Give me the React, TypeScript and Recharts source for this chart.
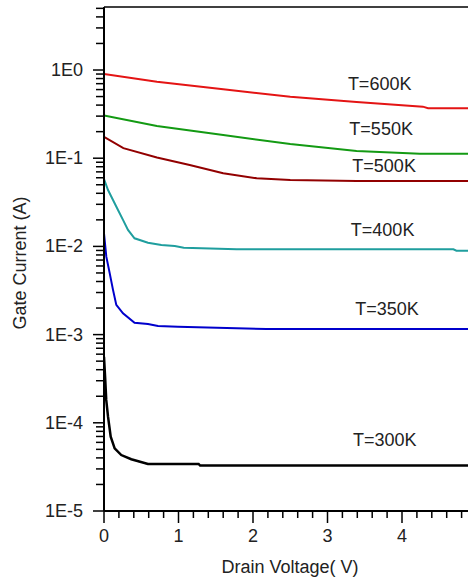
import React from 'react';
import { LineChart, Line, XAxis, YAxis, ReferenceLine, ReferenceDot } from 'recharts';

// drain voltage (V) / gate current (A)
const vd600 = [0, 0.71, 1.6, 2.5, 3.39, 4.28, 4.35, 5];
const ig600 = [0.9, 0.736, 0.604, 0.498, 0.434, 0.384, 0.368, 0.368];

const vd550 = [0, 0.71, 1.6, 2.5, 3.39, 4.24, 5];
const ig550 = [0.306, 0.232, 0.183, 0.145, 0.121, 0.112, 0.112];

const vd500 = [0, 0.26, 0.71, 1.15, 1.6, 2.05, 2.5, 3.39, 5];
const ig500 = [0.175, 0.13, 0.102, 0.0837, 0.0674, 0.0592, 0.0566, 0.0551, 0.0551];

const vd400 = [0, 0.054, 0.121, 0.188, 0.255, 0.322, 0.41, 0.59, 0.77, 0.95, 1.07, 1.78, 4.69, 4.73, 5];
const ig400 = [0.058, 0.0436, 0.0336, 0.0259, 0.02, 0.01535, 0.01236, 0.01102, 0.01037, 0.0101, 0.00967, 0.00927, 0.00927, 0.00894, 0.00894];

const vd350 = [0, 0.031, 0.077, 0.121, 0.165, 0.255, 0.41, 0.59, 0.725, 0.993, 2.18, 5];
const ig350 = [0.0141, 0.00764, 0.00495, 0.00321, 0.00217, 0.001744, 0.001365, 0.001318, 0.00125, 0.00123, 0.001157, 0.001157];

const vd300 = [0, 0.017, 0.03, 0.054, 0.09, 0.143, 0.232, 0.366, 0.59, 1.27, 1.29, 5];
const ig300 = [0.000561, 0.000305, 0.0001817, 0.0001172, 0.0000695, 0.0000514, 0.0000431, 0.0000386, 0.0000341, 0.0000341, 0.0000327, 0.0000327];

const labelText = ['T=600K', 'T=550K', 'T=500K', 'T=400K', 'T=350K', 'T=300K'];
const labelVd = [3.7, 3.72, 3.76, 3.74, 3.8, 3.77];
const labelIg = [0.693, 0.217, 0.0826, 0.01535, 0.00198, 0.0000638];

const xTicks = [0, 0.2, 0.4, 0.6, 0.8, 1, 1.2, 1.4, 1.6, 1.8, 2, 2.2, 2.4, 2.6, 2.8, 3, 3.2, 3.4, 3.6, 3.8, 4, 4.2, 4.4, 4.6, 4.8];
const xLabelled = [0, 1, 2, 3, 4];
const yDecades = [-5, -4, -3, -2, -1, 0];
const yMantissas = [1, 2, 3, 4, 5, 6, 7, 8, 9];
const yTop = [1, 2, 3, 4, 5];
const yMax = 5.18;

const yTicks = [
  ...yDecades.slice(0, -1).flatMap((d) => yMantissas.map((m) => Number((m * Math.pow(10, d)).toPrecision(3)))),
  ...yTop,
];

const pairs = (xs: number[], ys: number[]) => xs.map((x, i) => ({ vd: x, ig: ys[i] }));

const series = [
  { name: 'T=600K', data: pairs(vd600, ig600), color: '#e41414', width: 2 },
  { name: 'T=550K', data: pairs(vd550, ig550), color: '#139a13', width: 2 },
  { name: 'T=500K', data: pairs(vd500, ig500), color: '#920000', width: 2 },
  { name: 'T=400K', data: pairs(vd400, ig400), color: '#1f9e9e', width: 2 },
  { name: 'T=350K', data: pairs(vd350, ig350), color: '#0000cc', width: 2 },
  { name: 'T=300K', data: pairs(vd300, ig300), color: '#000000', width: 2.5 },
];

const FONT = '"Liberation Sans", Arial, sans-serif';
const TXT = '#222';

const isDecade = (v: number) => Math.abs(Math.log10(v) - Math.round(Math.log10(v))) < 1e-6;

const YTick = ({ x, y, payload }: any) => {
  const v = payload.value;
  const major = isDecade(v);
  return (
    <g>
      <line x1={x} x2={x - (major ? 11 : 8)} y1={y} y2={y} stroke="#000" strokeWidth={1.5} />
      {major && (
        <text x={x - 21} y={y} textAnchor="end" dominantBaseline="central" fontSize={18} fontFamily={FONT} fill={TXT}>
          {'1E' + Math.round(Math.log10(v))}
        </text>
      )}
    </g>
  );
};

const XTick = ({ x, y, payload }: any) => {
  const v = payload.value;
  const major = xLabelled.some((m) => Math.abs(v - m) < 1e-6);
  return (
    <g>
      <line x1={x} x2={x} y1={y} y2={y + (major ? 12 : 7)} stroke="#000" strokeWidth={1.5} />
      {major && (
        <text x={x} y={y + 25} textAnchor="middle" dominantBaseline="central" fontSize={18} fontFamily={FONT} fill={TXT}>
          {Math.round(v)}
        </text>
      )}
    </g>
  );
};

const YLabel = () => (
  <text
    x={20}
    y={263}
    transform="rotate(-90, 20, 263)"
    textAnchor="middle"
    dominantBaseline="central"
    fontSize={18}
    fontFamily={FONT}
    fill={TXT}
  >
    Gate Current (A)
  </text>
);

const XLabel = () => (
  <text x={290} y={573} textAnchor="middle" fontSize={18} fontFamily={FONT} fill={TXT}>
    Drain Voltage( V)
  </text>
);

export default function App() {
  return (
    <div style={{ position: 'absolute', top: 0, left: 0, width: 468, height: 581, overflow: 'hidden', background: '#fff' }}>
      <LineChart width={480} height={581} margin={{ top: 7, right: 3.5, bottom: 0, left: 0 }}>
        <XAxis
          type="number"
          dataKey="vd"
          domain={[0, 5]}
          ticks={xTicks}
          interval={0}
          tick={<XTick />}
          tickLine={false}
          tickSize={0}
          tickMargin={0}
          axisLine={{ stroke: '#000', strokeWidth: 2 }}
          height={70}
          allowDataOverflow
          label={<XLabel />}
        />
        <YAxis
          type="number"
          dataKey="ig"
          scale="log"
          domain={[1e-5, yMax]}
          ticks={yTicks}
          interval={0}
          tick={<YTick />}
          tickLine={false}
          tickSize={0}
          tickMargin={0}
          axisLine={{ stroke: '#000', strokeWidth: 2 }}
          width={104}
          allowDataOverflow
          label={<YLabel />}
        />
        <ReferenceLine y={yMax} stroke="#000" strokeWidth={1.5} />
        {series.map((s) => (
          <Line
            key={s.name}
            data={s.data}
            dataKey="ig"
            type="linear"
            stroke={s.color}
            strokeWidth={s.width}
            dot={false}
            isAnimationActive={false}
          />
        ))}
        {labelText.map((t, i) => (
          <ReferenceDot
            key={t}
            x={labelVd[i]}
            y={labelIg[i]}
            r={0}
            fill="none"
            stroke="none"
            label={{ value: t, position: 'center', fontSize: 18, fontFamily: FONT, fill: TXT }}
          />
        ))}
      </LineChart>
    </div>
  );
}
